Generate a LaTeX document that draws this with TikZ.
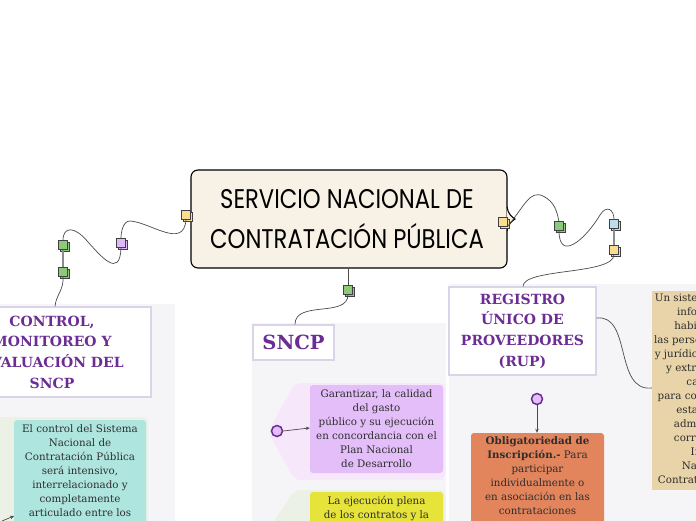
\documentclass[tikz,border=0pt]{standalone}
\usepackage{fontspec}
\setmainfont{DejaVu Serif}
\newfontfamily\titlefont{Poppins}
\usetikzlibrary{shadows,arrows.meta}
\definecolor{panel}{HTML}{F5F5F7}
\definecolor{lav}{HTML}{D9D4E7}
\definecolor{purp}{HTML}{6B2D94}
\definecolor{txt}{HTML}{2E2E2E}
\definecolor{cream}{HTML}{F8F2E6}
\definecolor{teal}{HTML}{AEE6DF}
\definecolor{lilac}{HTML}{E3BEF9}
\definecolor{pinkhex}{HTML}{F6E7FA}
\definecolor{greenhex}{HTML}{EBF1E5}
\definecolor{yell}{HTML}{E6E33A}
\definecolor{orng}{HTML}{E2845C}
\definecolor{tan}{HTML}{E8D4A8}
\definecolor{sqgreen}{HTML}{8DC97B}
\definecolor{sqpurp}{HTML}{DDBBF7}
\definecolor{sqyell}{HTML}{FADC92}
\definecolor{sqblue}{HTML}{BCDDF0}
\definecolor{conn}{HTML}{4A4A4A}
\begin{document}
\begin{tikzpicture}[x=1pt,y=-1pt,
  sq/.style={draw=black!75, line width=0.6pt, minimum size=8.5pt, inner sep=0pt,
    copy shadow={shadow xshift=1.6pt, shadow yshift=-1.6pt}},
  conn/.style={draw=conn, line width=0.7pt},
  stem/.style={draw=black!45, line width=1.6pt},
  head/.style={draw=lav, line width=1.2pt, fill=white, align=center, text=purp,
    font=\bfseries\fontsize{14}{20.7}\selectfont, inner sep=0pt},
  body/.style={align=center, text=txt, font=\fontsize{10.3}{14}\selectfont, inner sep=0pt},
  dot/.style={circle, draw=purp, line width=1.5pt, fill=lilac, minimum size=11pt, inner sep=0pt},
  arr/.style={draw=conn, line width=0.7pt, -{Stealth[length=4pt,width=3.5pt]}}
]
\useasboundingbox (0,0) rectangle (696,520);
\fill[white] (0,0) rectangle (696,520);

% panels
\fill[panel] (-5,304) rectangle (175,530);
\fill[panel] (252,323) rectangle (446,530);
\fill[panel] (449,284) rectangle (700,530);

% hexagon backgrounds
\fill[pinkhex, rounded corners=6] (268,432) -- (295,383) -- (445,383) -- (445,480) -- (295,480) -- cycle;
\fill[greenhex, rounded corners=6] (258,545) -- (295,490) -- (445,490) -- (445,560) -- (258,560) -- cycle;
\fill[greenhex, rounded corners=4] (-20,417) -- (148,417) -- (148,540) -- (-20,540) -- cycle;

% central node
\node[draw=black, line width=1.1pt, rounded corners=7, fill=cream, minimum width=316pt, minimum height=98pt] (main) at (349,219) {};
\fill[cream] (506.5,207) .. controls (508,214) and (512,217) .. (515,219) .. controls (512,221) and (508,224) .. (506.5,231) -- cycle;
\draw[black, line width=1.1pt] (507,207) .. controls (508,214) and (512,217) .. (515,219) .. controls (512,221) and (508,224) .. (507,231);
\node[font=\titlefont\fontsize{27}{40}\selectfont, align=center, inner sep=0pt] (title) at (347,219)
  {\scalebox{0.84}[1]{SERVICIO NACIONAL DE}\\\scalebox{0.84}[1]{CONTRATACIÓN PÚBLICA}};

% heading nodes
\node[head, minimum width=198pt, minimum height=90pt] (ctrl) at (52,352)
  {CONTROL,\\MONITOREO Y\\EVALUACIÓN DEL\\SNCP};
\node[head, minimum width=81pt, minimum height=35pt, font=\bfseries\fontsize{19.5}{22}\selectfont] (sncp) at (293.5,342.5) {SNCP};
\node[head, minimum width=147pt, minimum height=88pt] (rup) at (522.5,331)
  {REGISTRO\\ÚNICO DE\\PROVEEDORES\\(RUP)};

% content boxes
\node[fill=teal, rounded corners=3, minimum width=132pt, minimum height=130pt] (tealbox) at (80,485) {};
\node[body, anchor=north] (tealtext) at (80,424)
  {El control del Sistema\\Nacional de\\Contratación Pública\\será intensivo,\\interrelacionado y\\completamente\\articulado entre los};

\node[body, fill=lilac, rounded corners=3, minimum width=133pt, minimum height=88pt] (gar) at (376.5,429)
  {Garantizar, la calidad\\del gasto\\público y su ejecución\\en concordancia con el\\Plan Nacional\\de Desarrollo};

\node[fill=yell, rounded corners=3, minimum width=133pt, minimum height=70pt] (yelbox) at (376.5,527) {};
\node[body, anchor=north] (yeltext) at (376.5,496)
  {La ejecución plena\\de los contratos y la};

\node[fill=orng, rounded corners=3, minimum width=133pt, minimum height=100pt] (orbox) at (537.5,483) {};
\node[body, anchor=north] (ortext) at (537.5,436)
  {\textbf{Obligatoriedad de}\\\textbf{Inscripción.-} Para\\participar\\individualmente o\\en asociación en las\\contrataciones};

\node[fill=tan, minimum width=130pt, minimum height=199pt] (tanbox) at (717,390.5) {};
\node[body, anchor=north] (tantext) at (713,293)
  {Un sistema público de\\información y\\habilitación de\\las personas naturales\\y jurídicas, nacionales\\y extranjeras, con\\capacidad\\para contratar según\\esta Ley, cuya\\administración\\corresponde al\\Instituto\\Nacional de\\Contratación Pública};

% dots and arrows
\node[dot] (d1) at (277,431) {};
\draw[arr] (d1.east) .. controls (292,430) and (300,429) .. (gar.west |- 0,428);
\node[dot] (d2) at (537,399) {};
\draw[arr] (d2.south) -- (orbox.north -| d2.south);
\coordinate (cl) at (2,521);
\draw[arr] (cl) -- (14,516);

% connector squares
\node[sq, fill=sqyell] (y1) at (186,215) {};
\node[sq, fill=sqpurp] (p1) at (121,243) {};
\node[sq, fill=sqgreen] (g1) at (63,245) {};
\node[sq, fill=sqgreen] (g2) at (63,272) {};
\node[sq, fill=sqyell] (y2) at (503,222) {};
\node[sq, fill=sqgreen] (g3) at (559,226) {};
\node[sq, fill=sqblue] (b1) at (614,224) {};
\node[sq, fill=sqyell] (y3) at (614,250) {};
\node[sq, fill=sqgreen] (g4) at (348,290) {};

% connectors
\draw[conn] (y1.south) .. controls (184,250) and (150,222) .. (130,221) .. controls (123,221) and (121,232) .. (p1.north);
\draw[conn] (p1.south) .. controls (120,280) and (100,255) .. (88,242) .. controls (75,226) and (63,226) .. (g1.north);
\draw[stem] (g1.south) -- (g2.north);
\draw[conn] (g2.south) .. controls (64,290) and (56,295) .. (ctrl.north -| 55,0);
\draw[conn] (y2.south east) .. controls (525,205) and (530,190) .. (543,196) .. controls (555,202) and (557,212) .. (g3.north);
\draw[conn] (g3.south) .. controls (559,262) and (585,240) .. (600,215) .. controls (607,204) and (614,210) .. (b1.north);
\draw[stem] (b1.south) -- (y3.north);
\draw[conn] (y3.south) .. controls (614,275) and (523,268) .. (rup.north -| 523,0);
\draw[conn] (main.south -| g4) -- (g4.north);
\draw[conn] (g4.south) .. controls (348,318) and (295,300) .. (sncp.north -| 295,0);
\draw[conn] (rup.east |- 0,318) .. controls (632,314) and (614,392) .. (tanbox.west |- 0,388);
\end{tikzpicture}
\end{document}
